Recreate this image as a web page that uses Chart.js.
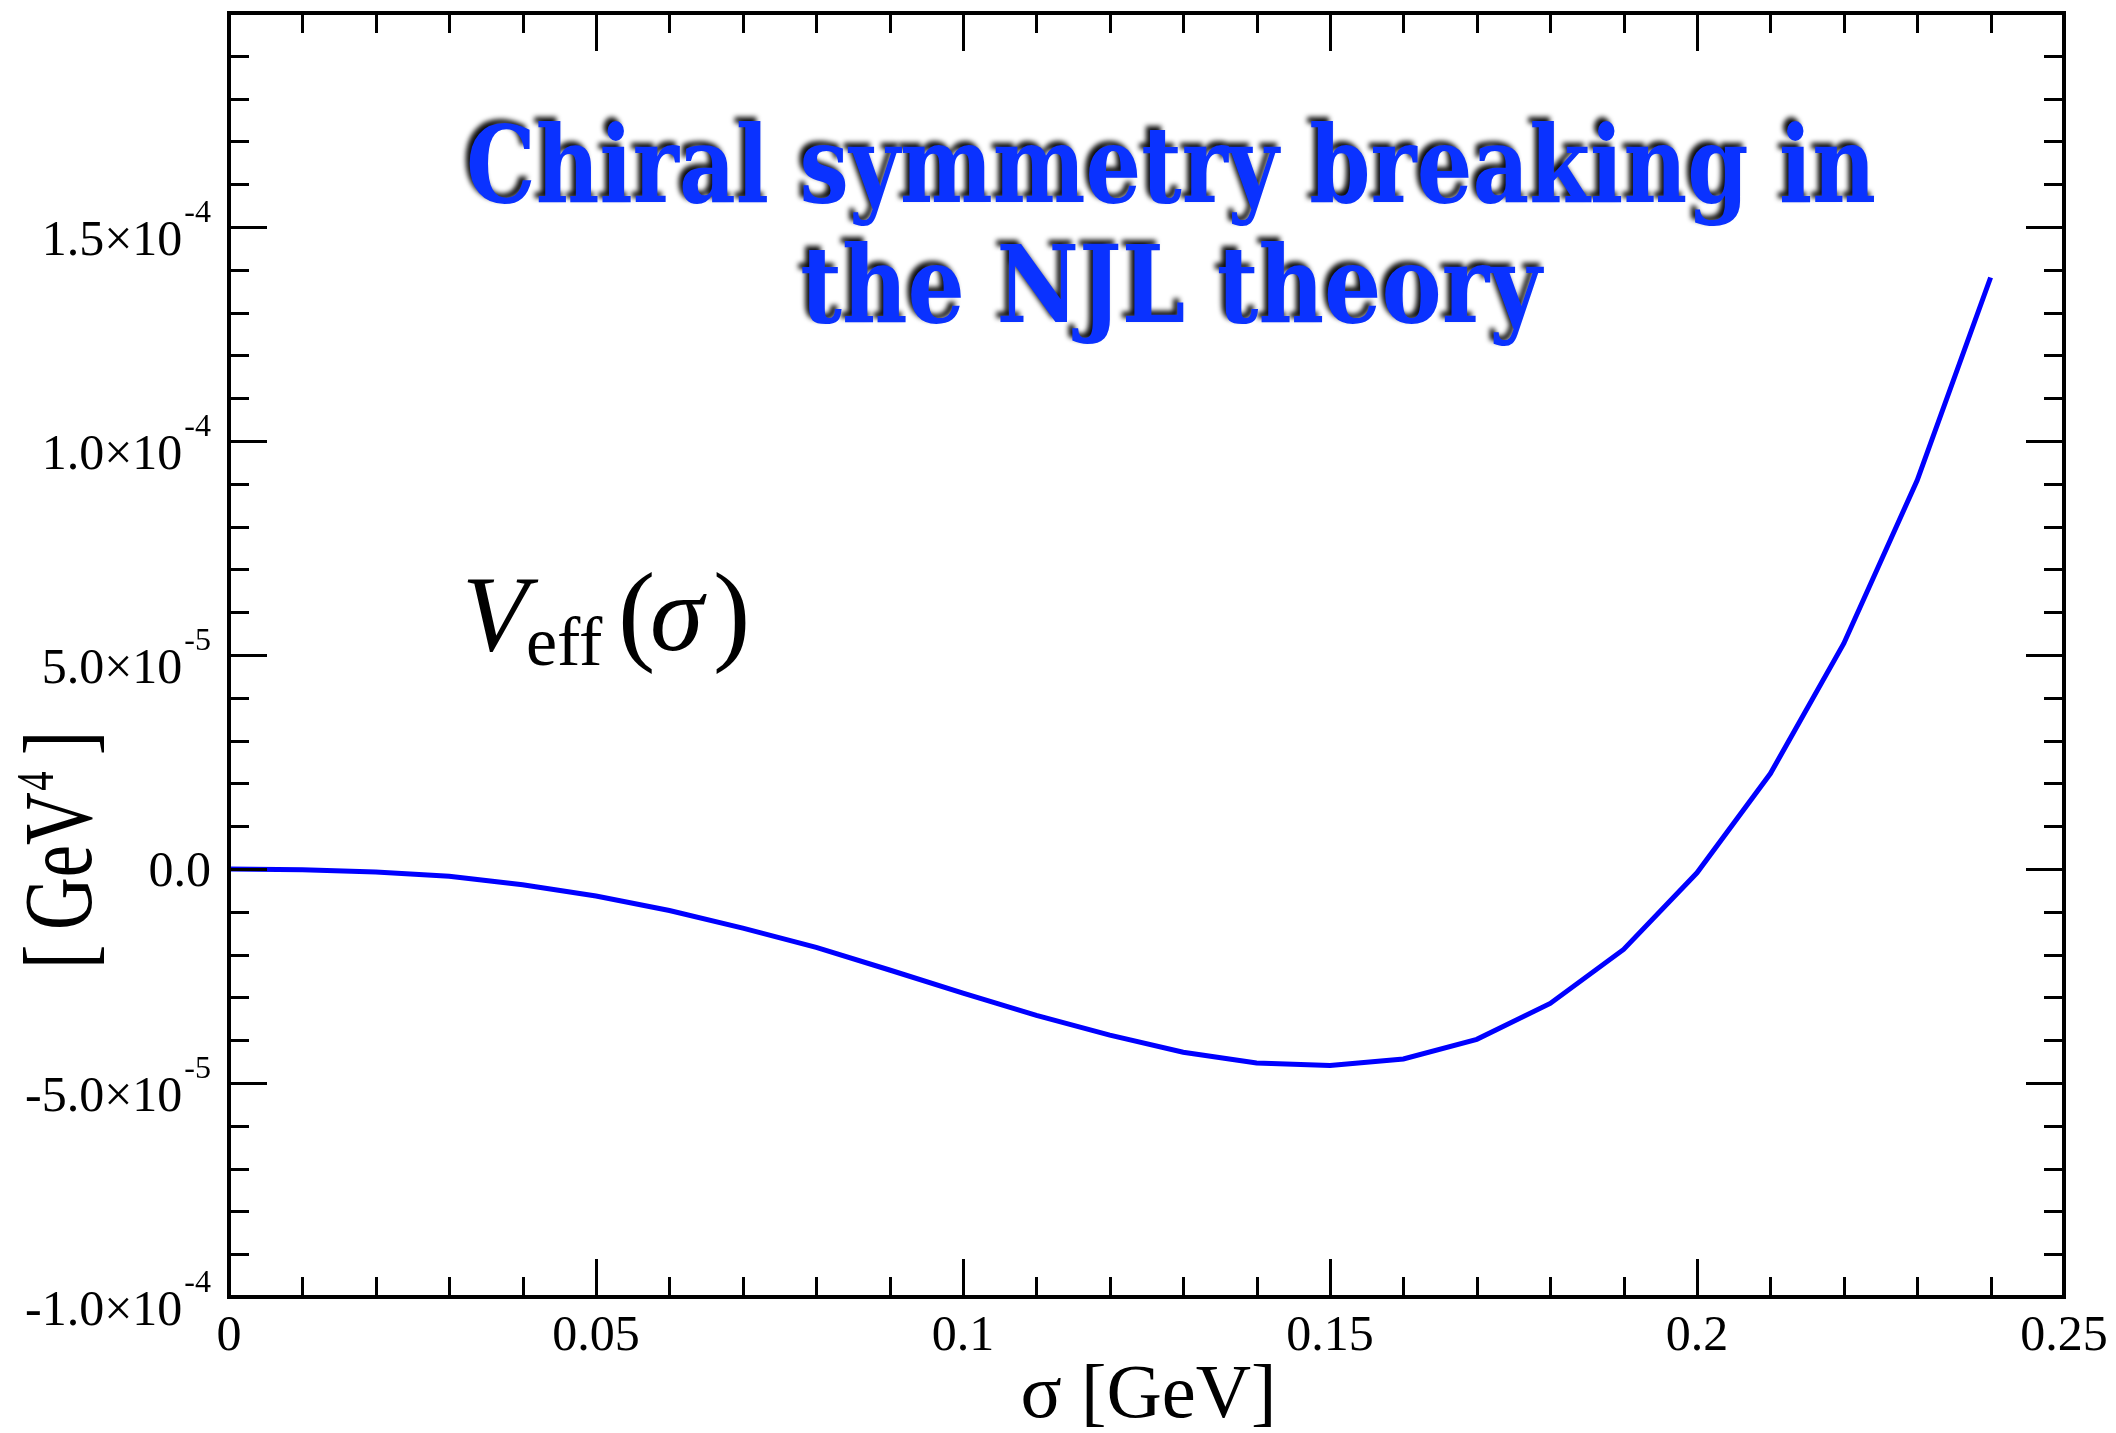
<!DOCTYPE html>
<html>
<head>
<meta charset="utf-8">
<script src="https://cdn.jsdelivr.net/npm/chart.js@4.4.1/dist/chart.umd.min.js"></script>
<style>
  html, body { margin: 0; padding: 0; background: #ffffff; }
  #wrap { width: 2116px; height: 1433px; }
</style>
</head>
<body>
<div id="wrap"><canvas id="veff" width="2116" height="1433"></canvas></div>
<script>
// sigma in GeV, effective potential in GeV^4
const sigma = [0.00, 0.01, 0.02, 0.03, 0.04, 0.05, 0.06, 0.07, 0.08, 0.09,
               0.10, 0.11, 0.12, 0.13, 0.14, 0.15, 0.16, 0.17, 0.18, 0.19,
               0.20, 0.21, 0.22, 0.23, 0.24];
const vEff = [0.0, -0.2e-6, -0.7e-6, -1.7e-6, -3.7e-6, -6.3e-6, -9.7e-6, -1.38e-5, -1.83e-5, -2.36e-5,
              -2.90e-5, -3.42e-5, -3.88e-5, -4.28e-5, -4.53e-5, -4.59e-5, -4.44e-5, -3.98e-5, -3.14e-5, -1.88e-5,
              -0.09e-5, 2.23e-5, 5.27e-5, 9.08e-5, 1.382e-4];

// axis ranges and labelled ticks
const xRange = [0, 0.25];
const yRange = [-1.0e-4, 2.0e-4];
const xTickValues = [0, 0.05, 0.10, 0.15, 0.20, 0.25];
const xTickLabels = ['0', '0.05', '0.1', '0.15', '0.2', '0.25'];
const yTickValues = [-1.0e-4, -5.0e-5, 0, 5.0e-5, 1.0e-4, 1.5e-4];
const yTickMantissas = ['-1.0', '-5.0', '0.0', '5.0', '1.0', '1.5'];
const yTickExponents = ['-4', '-5', null, '-5', '-4', '-4'];
const xMinorStep = 0.01;
const yMinorStep = 1.0e-5;

const titleLines = ['Chiral symmetry breaking in', 'the NJL theory'];

const SERIF = '"Liberation Serif", "Times New Roman", serif';

// draws the boxed frame, inward ticks, tick labels, axis titles and annotations
const decorPlugin = {
  id: 'decor',
  afterDraw(chart) {
    const ctx = chart.ctx;
    const xs = chart.scales.x, ys = chart.scales.y;
    const a = chart.chartArea;
    ctx.save();
    ctx.strokeStyle = '#000';
    ctx.fillStyle = '#000';

    // inward ticks on all four sides
    ctx.lineWidth = 3;
    const nX = Math.round((xRange[1] - xRange[0]) / xMinorStep);
    for (let i = 1; i < nX; i++) {
      const v = xRange[0] + i * xMinorStep;
      const px = Math.round(xs.getPixelForValue(v)) + 0.5;
      const len = (i % 5 === 0) ? 38 : 20;
      ctx.beginPath();
      ctx.moveTo(px, a.bottom); ctx.lineTo(px, a.bottom - len);
      ctx.moveTo(px, a.top); ctx.lineTo(px, a.top + len);
      ctx.stroke();
    }
    const nY = Math.round((yRange[1] - yRange[0]) / yMinorStep);
    for (let i = 1; i < nY; i++) {
      const v = yRange[0] + i * yMinorStep;
      const py = Math.round(ys.getPixelForValue(v)) + 0.5;
      const len = (i % 5 === 0) ? 38 : 20;
      ctx.beginPath();
      ctx.moveTo(a.left, py); ctx.lineTo(a.left + len, py);
      ctx.moveTo(a.right, py); ctx.lineTo(a.right - len, py);
      ctx.stroke();
    }

    // frame
    ctx.lineWidth = 4;
    ctx.strokeRect(a.left, a.top, a.right - a.left, a.bottom - a.top);

    // x tick labels
    ctx.font = '50px ' + SERIF;
    ctx.textAlign = 'center';
    ctx.textBaseline = 'alphabetic';
    xTickValues.forEach((v, i) => {
      ctx.fillText(xTickLabels[i], xs.getPixelForValue(v), a.bottom + 53);
    });

    // y tick labels with power-of-ten notation
    const xRight = a.left - 18;
    yTickValues.forEach((v, i) => {
      const py = ys.getPixelForValue(v);
      const exp = yTickExponents[i];
      if (exp === null) {
        ctx.font = '50px ' + SERIF;
        ctx.textAlign = 'right';
        ctx.fillText(yTickMantissas[i], xRight, py + 17);
        return;
      }
      ctx.font = '32px ' + SERIF;
      const ew = ctx.measureText(exp).width;
      ctx.textAlign = 'left';
      ctx.fillText(exp, xRight - ew, py - 5);
      ctx.font = '50px ' + SERIF;
      ctx.textAlign = 'right';
      ctx.fillText(yTickMantissas[i] + '\u00d710', xRight - ew - 2, py + 28);
    });

    // x axis title
    ctx.save();
    ctx.font = '76px ' + SERIF;
    const xt = '\u03c3 [GeV]';
    const xtw = ctx.measureText(xt).width;
    const xsc = 256 / xtw;
    ctx.translate((a.left + a.right) / 2 + 2, a.bottom + 120);
    ctx.scale(xsc, 1);
    ctx.textAlign = 'center';
    ctx.fillText(xt, 0, 0);
    ctx.restore();

    // y axis title, rotated
    ctx.save();
    ctx.translate(91, 850);
    ctx.rotate(-Math.PI / 2);
    ctx.font = '98px ' + SERIF;
    const p1 = '[\u2009GeV', p3 = '\u2009]';
    const w1 = ctx.measureText(p1).width, w3 = ctx.measureText(p3).width;
    ctx.font = '52px ' + SERIF;
    const w2 = ctx.measureText('4').width + 4;
    const total = w1 + w2 + w3;
    const ysc = 238 / total;
    ctx.scale(ysc, 1);
    let cx = -total / 2;
    ctx.textAlign = 'left';
    ctx.font = '98px ' + SERIF;
    ctx.fillText(p1, cx, 0); cx += w1;
    ctx.font = '52px ' + SERIF;
    ctx.fillText('4', cx + 2, -38); cx += w2;
    ctx.font = '98px ' + SERIF;
    ctx.fillText(p3, cx, 0);
    ctx.restore();

    // V_eff(sigma) annotation
    ctx.textAlign = 'left';
    ctx.font = 'italic 108px ' + SERIF;
    ctx.fillText('V', 462, 650);
    ctx.font = '70px ' + SERIF;
    ctx.fillText('eff', 526, 665);
    ctx.font = '112px ' + SERIF;
    ctx.fillText('(', 618, 650);
    ctx.font = 'italic 108px ' + SERIF;
    ctx.fillText('\u03c3', 650, 650);
    ctx.font = '112px ' + SERIF;
    ctx.fillText(')', 713, 650);

    // title with dark drop shadow
    ctx.save();
    ctx.font = 'bold 107px "DejaVu Serif", serif';
    const tw = ctx.measureText(titleLines[0]).width;
    const tsc = 1410 / tw;
    ctx.fillStyle = '#0a32ff';
    ctx.shadowColor = 'rgba(0,0,0,0.95)';
    ctx.shadowBlur = 5;
    ctx.shadowOffsetX = -4;
    ctx.shadowOffsetY = -4;
    ctx.textAlign = 'center';
    const cxT = 1171;
    [202, 322].forEach((base, i) => {
      ctx.save();
      ctx.translate(cxT, base);
      ctx.scale(i === 0 ? tsc : tsc * 1.03, 1);
      ctx.fillText(titleLines[i], 0, 0);
      ctx.restore();
    });
    ctx.restore();

    ctx.restore();
  }
};

new Chart(document.getElementById('veff').getContext('2d'), {
  type: 'line',
  data: {
    datasets: [{
      data: sigma.map((s, i) => ({ x: s, y: vEff[i] })),
      borderColor: '#0000ff',
      borderWidth: 5,
      pointRadius: 0,
      tension: 0,
      fill: false
    }]
  },
  options: {
    responsive: false,
    devicePixelRatio: 1,
    animation: false,
    layout: { padding: { left: 229, right: 52, top: 13, bottom: 136 } },
    plugins: { legend: { display: false }, tooltip: { enabled: false }, title: { display: false } },
    scales: {
      x: { type: 'linear', min: xRange[0], max: xRange[1], display: false },
      y: { type: 'linear', min: yRange[0], max: yRange[1], display: false }
    }
  },
  plugins: [decorPlugin]
});
</script>
</body>
</html>
